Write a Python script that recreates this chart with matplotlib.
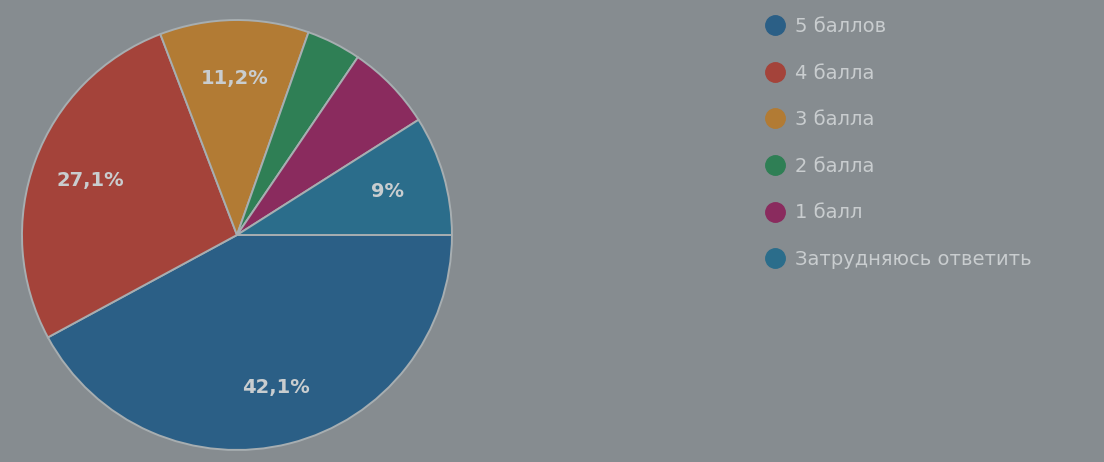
import numpy as np
import matplotlib.pyplot as plt
from matplotlib.lines import Line2D

# Survey answers (percent)
categories = ['5 баллов', '4 балла', '3 балла', '2 балла', '1 балл', 'Затрудняюсь ответить']
shares = [42.1, 27.1, 11.2, 4.1, 6.5, 9.0]
pct_labels = ['42,1%', '27,1%', '11,2%', '', '', '9%']
colors = ['#2b5f86', '#a4433a', '#b27b34', '#2f7f55', '#8a2b5e', '#2b6d8b']

bg = '#868c90'
text_col = '#c9cdcf'

fig = plt.figure(figsize=(11.04, 4.62), dpi=100, facecolor=bg)
ax = fig.add_axes([0.0199, 0.026, 0.3895, 0.9307])
ax.set_facecolor(bg)

wedges, _ = ax.pie(shares, colors=colors, startangle=0, counterclock=False,
                   radius=1.0,
                   wedgeprops=dict(edgecolor='#a7aeb1', linewidth=1.4))

# percentage labels inside the slices
for w, lab in zip(wedges, pct_labels):
    if not lab:
        continue
    ang = np.deg2rad((w.theta1 + w.theta2) / 2)
    ax.text(0.73 * np.cos(ang), 0.73 * np.sin(ang), lab, ha='center', va='center',
            fontsize=14, color=text_col, fontweight='bold')

ax.set_xlim(-1.0, 1.0)
ax.set_ylim(-1.0, 1.0)
ax.set_aspect('equal')
ax.axis('off')

handles = [Line2D([0], [0], marker='o', linestyle='', markersize=14,
                  markerfacecolor=c, markeredgecolor=c) for c in colors]
leg = fig.legend(handles, categories, loc='upper left',
                 bbox_to_anchor=(0.686, 0.98), frameon=False,
                 fontsize=14, labelcolor=text_col, labelspacing=1.42,
                 handletextpad=0.55, handlelength=1.0, borderaxespad=0)

fig.savefig('out.png', dpi=100, facecolor=bg)
